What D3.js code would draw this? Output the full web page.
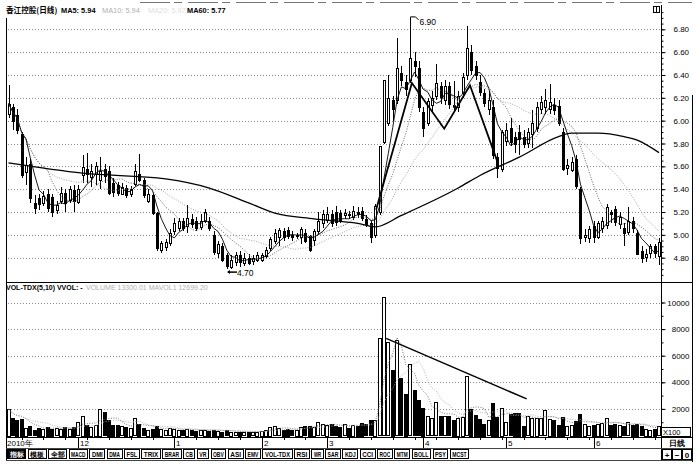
<!DOCTYPE html>
<html><head><meta charset="utf-8">
<script src="https://cdn.jsdelivr.net/npm/d3@7/dist/d3.min.js"></script>
<style>
html,body{margin:0;padding:0;background:#fff;overflow:hidden}
svg{display:block}
text{font-family:"Liberation Sans",Arial,sans-serif}
</style></head><body>
<svg id="c" width="700" height="468"></svg>
<script>
// ---------- data ----------
const open = [6.06,6.12,6.05,5.88,5.55,5.62,5.28,5.32,5.28,5.36, 5.33,5.22,5.30,5.37,5.30,5.39,5.29,5.52,5.58,5.51, 5.53,5.48,5.58,5.56,5.45,5.44,5.36,5.41,5.36,5.45, 5.53,5.48,5.30,5.35,5.19,4.87,4.90,4.93,5.03,5.06, 5.12,5.08,5.14,5.12,5.07,5.12,5.12,5.00,4.84,4.90, 4.82,4.72,4.76,4.82,4.76,4.80,4.77,4.78,4.78,4.82, 4.88,4.95,4.98,5.03,5.04,5.00,4.99,4.98,5.02,4.99, 4.95,5.03,5.10,5.13,5.18,5.20,5.19,5.17,5.18,5.16, 5.20,5.21,5.14,5.10,5.00,5.20,5.82,5.98,6.18,6.18, 6.42,6.34,6.36,6.52,6.46,6.08,5.98,6.14,6.22,6.30, 6.18,6.30,6.14,6.12,6.24,6.40,6.60,6.48,6.34,6.24, 6.10,6.12,5.68,5.58,5.82,5.94,5.86,5.90,5.86,5.80, 5.88,5.94,6.10,6.12,6.10,6.14,6.13,5.90,5.58,5.57, 5.66,5.40,4.98,4.97,5.08,4.98,5.06,5.08,5.20,5.23, 5.10,5.06,5.02,5.12,5.02,4.86,4.80,4.84,4.90,4.82];
const high = [6.31,6.15,6.10,5.90,5.68,5.66,5.35,5.36,5.38,5.40, 5.36,5.30,5.42,5.40,5.43,5.44,5.44,5.70,5.72,5.62, 5.64,5.68,5.62,5.60,5.50,5.46,5.45,5.44,5.43,5.62, 5.71,5.50,5.40,5.36,5.20,4.95,4.96,5.05,5.15,5.15, 5.15,5.26,5.18,5.16,5.18,5.23,5.16,5.03,4.95,4.93, 4.84,4.82,4.85,4.86,4.84,4.83,4.82,4.85,4.84,4.89, 4.98,5.05,5.06,5.06,5.07,5.03,5.02,5.07,5.05,5.00, 5.05,5.20,5.22,5.24,5.22,5.25,5.22,5.23,5.21,5.25, 5.24,5.24,5.17,5.12,5.27,5.78,6.36,6.40,6.22,6.72, 6.48,6.40,6.90,6.60,6.52,6.12,6.20,6.26,6.50,6.34, 6.36,6.34,6.35,6.26,6.42,6.83,6.66,6.52,6.40,6.28, 6.26,6.18,5.72,5.92,5.98,6.02,5.90,5.96,5.92,5.94, 6.09,6.16,6.22,6.28,6.32,6.20,6.18,5.94,5.66,5.68, 5.70,5.42,5.05,5.08,5.12,5.12,5.16,5.27,5.22,5.25, 5.20,5.10,5.24,5.16,5.04,4.90,4.88,4.92,4.92,4.97];
const low = [6.02,5.92,5.88,5.50,5.44,5.28,5.18,5.22,5.25,5.20, 5.16,5.18,5.27,5.20,5.28,5.20,5.27,5.45,5.45,5.42, 5.44,5.40,5.45,5.35,5.33,5.34,5.35,5.32,5.33,5.43, 5.46,5.32,5.28,5.17,4.86,4.84,4.86,4.90,5.00,5.03, 5.03,5.02,5.06,5.03,5.04,5.10,5.03,4.82,4.80,4.76, 4.70,4.70,4.73,4.72,4.73,4.74,4.74,4.76,4.76,4.80, 4.86,4.92,4.90,4.95,4.96,4.95,4.96,4.92,4.93,4.85, 4.90,5.00,5.06,5.10,5.07,5.08,5.10,5.14,5.14,5.13, 5.15,5.12,5.07,4.93,4.97,5.17,5.80,5.95,6.00,6.15, 6.30,6.22,6.33,6.38,6.08,5.86,5.95,6.08,6.18,6.15, 6.14,6.10,6.08,6.08,6.20,6.36,6.40,6.36,6.22,6.12, 6.05,5.66,5.50,5.55,5.78,5.78,5.72,5.70,5.76,5.76, 5.76,5.90,6.06,6.06,6.06,6.05,5.95,5.56,5.52,5.55, 5.40,4.92,4.94,4.93,4.93,4.96,5.02,5.05,5.10,5.08, 5.05,4.90,5.00,5.02,4.82,4.75,4.76,4.80,4.80,4.74];
const close = [6.15,6.00,5.92,5.52,5.61,5.32,5.24,5.27,5.34,5.24, 5.20,5.26,5.37,5.28,5.40,5.29,5.40,5.59,5.54,5.56, 5.60,5.56,5.52,5.37,5.37,5.37,5.42,5.35,5.40,5.56, 5.48,5.35,5.36,5.19,4.88,4.93,4.94,5.02,5.10,5.12, 5.06,5.15,5.10,5.06,5.12,5.20,5.06,4.85,4.92,4.78, 4.72,4.78,4.82,4.76,4.80,4.76,4.80,4.82,4.82,4.87, 4.96,5.02,5.04,4.98,4.99,4.98,5.00,5.05,4.95,4.87, 5.03,5.12,5.18,5.18,5.10,5.11,5.13,5.19,5.17,5.21, 5.18,5.15,5.10,4.98,5.25,5.78,6.36,6.20,6.10,6.46, 6.36,6.28,6.55,6.48,6.12,5.94,6.17,6.20,6.33,6.20, 6.30,6.14,6.12,6.22,6.38,6.64,6.44,6.40,6.25,6.15, 6.18,5.70,5.58,5.90,5.92,5.82,5.80,5.84,5.80,5.90, 5.98,6.12,6.16,6.18,6.16,6.10,5.98,5.58,5.61,5.64, 5.42,4.97,5.00,5.05,4.98,5.10,5.12,5.24,5.18,5.12, 5.16,5.02,5.12,5.06,4.84,4.80,4.83,4.90,4.84,4.94];
const volume = [2000,1300,1200,1250,600,700,400,600,500,650,500,550,500,650,500,650,1000,
 1500,800,650,800,2000,1750,1200,800,800,700,650,600,1300,900,550,450,500,750,500,400,550,
 500,450,400,500,400,350,400,450,350,450,350,300,400,300,250,300,250,300,250,300,
 350,450,650,700,550,450,500,400,450,650,700,750,650,1000,850,
 800,850,700,650,850,600,800,750,950,850,1150,1200,
 7300,10400,7000,4950,7150,4300,3150,5350,3400,2650,2100,1450,1300,2500,1450,1450,1450,1200,1350,1400,
 4450,2000,1550,1250,900,1150,2450,1400,2100,1000,1600,1700,1700,750,1450,1350,1350,1300,1900,1250,
 1200,800,1400,700,800,1100,1650,900,700,800,900,950,1300,800,900,800,700,1000,800,900,700,500,450,500,700];
// MA60 at bar indices
const ma60Idx = [0,17,36,46,55,61,70,80,84,90,103,108,117,126,129,135,141,144,149];
const ma60Val = [5.63,5.54,5.49,5.41,5.28,5.19,5.14,5.10,5.07,5.17,5.41,5.52,5.68,5.86,5.89,5.89,5.86,5.83,5.72];
// hand-drawn zigzag (bar index, price) and volume trend line (bar index, volume)
const zigIdx = [84.2,92.4,99.8,105.7,111.9];
const zigVal = [5.22,6.33,5.93,6.31,5.65];
const trendIdx = [86.5,118.7];
const trendVal = [7300,2750];
const priceTicks = [6.8,6.6,6.4,6.2,6.0,5.8,5.6,5.4,5.2,5.0,4.8];
const volTicks = [2000,4000,6000,8000,10000];
const monthLabels = ["2010年","12","1","2","3","4","5","6"];
const monthStart = [0,16,38,58,73,95,114,134];
const buttons = ["指标","模板","全部","MACD","DMI","DMA","FSL","TRIX","BRAR","CB","VR","OBV","ASI","EMV","VOL-TDX","RSI","WR","SAR","KDJ","CCI","ROC","MTM","BOLL","PSY","MCST"];
const peakIdx = 92, lowIdx = 50;

// ---------- scales ----------
const N = close.length, idx = d3.range(N);
const x = d3.scaleLinear().domain([0, N-1]).range([8.5, 659]);
const y = d3.scaleLinear().domain([4.8, 6.8]).range([257.7, 29.3]);
const yv = d3.scaleLinear().domain([0, 10000]).range([435.5, 302.5]);
const px = i => Math.round(x(i));
const ma = (a, n) => a.map((_, i) => d3.mean(a.slice(Math.max(0, i-n+1), i+1)));
const ma5 = ma(close,5), ma10 = ma(close,10), ma20 = ma(close,20);
const mv5 = ma(volume,5), mv10 = ma(volume,10);

const svg = d3.select("#c");
const defs = svg.append("defs");
defs.append("clipPath").attr("id","cp").append("rect").attr("x",6).attr("y",12).attr("width",655).attr("height",270);
defs.append("clipPath").attr("id","cv").append("rect").attr("x",6).attr("y",284).attr("width",655).attr("height",153);

// ---------- frame ----------
const fr = svg.append("g").attr("stroke","#000").attr("shape-rendering","crispEdges");
fr.append("line").attr("x1",140).attr("x2",692).attr("y1",2.5).attr("y2",2.5).attr("stroke","#777").attr("stroke-dasharray","30,4,8,6");
fr.append("line").attr("x1",6.5).attr("x2",6.5).attr("y1",18).attr("y2",460);
fr.append("line").attr("x1",661.5).attr("x2",661.5).attr("y1",5).attr("y2",460).attr("stroke-width",1.2);
fr.append("line").attr("x1",692.5).attr("x2",692.5).attr("y1",95).attr("y2",462).attr("stroke-width",1.5);
fr.append("line").attr("x1",6).attr("x2",692).attr("y1",282.5).attr("y2",282.5).attr("stroke-width",1.5);
fr.append("line").attr("x1",6).attr("x2",692).attr("y1",437.5).attr("y2",437.5);
fr.append("line").attr("x1",6).attr("x2",692).attr("y1",448.5).attr("y2",448.5).attr("stroke","#444");
fr.append("line").attr("x1",6).attr("x2",692).attr("y1",460.5).attr("y2",460.5).attr("stroke","#444");
// small icon top right
svg.append("rect").attr("x",653.5).attr("y",6.5).attr("width",6).attr("height",6).attr("fill","none").attr("stroke","#000");
svg.append("line").attr("x1",656.5).attr("x2",656.5).attr("y1",6.5).attr("y2",12.5).attr("stroke","#000");

// ---------- grid ----------
const grid = svg.append("g").attr("stroke","#8a8a8a").attr("stroke-dasharray","1,2").attr("shape-rendering","crispEdges");
priceTicks.forEach(t => grid.append("line").attr("x1",8).attr("x2",660).attr("y1",Math.round(y(t))+0.5).attr("y2",Math.round(y(t))+0.5));
volTicks.forEach(t => grid.append("line").attr("x1",8).attr("x2",660).attr("y1",Math.round(yv(t))+0.5).attr("y2",Math.round(yv(t))+0.5));

// ---------- axes ----------
const ax = svg.append("g").attr("transform","translate(661.5,0)")
  .call(d3.axisRight(y).tickValues(priceTicks).tickFormat(d3.format(".2f")).tickSize(4).tickPadding(8));
ax.select(".domain").remove();
ax.selectAll("text").attr("font-size",8).attr("font-family","Liberation Sans, Arial").attr("fill","#000");
const axm = svg.append("g").attr("transform","translate(661.5,0)")
  .call(d3.axisRight(y).tickValues(d3.range(4.65, 6.96, 0.05)).tickFormat("").tickSize(2));
axm.select(".domain").remove();
const av = svg.append("g").attr("transform","translate(661.5,0)")
  .call(d3.axisRight(yv).tickValues(volTicks).tickFormat(d3.format("d")).tickSize(4).tickPadding(6));
av.select(".domain").remove();
av.selectAll("text").attr("font-size",8).attr("font-family","Liberation Sans, Arial").attr("fill","#000").attr("text-anchor","end").attr("x",28);
const avm = svg.append("g").attr("transform","translate(661.5,0)")
  .call(d3.axisRight(yv).tickValues(d3.range(1000, 11000, 1000)).tickFormat("").tickSize(2));
avm.select(".domain").remove();

// ---------- candles ----------
const gp = svg.append("g").attr("clip-path","url(#cp)").attr("shape-rendering","crispEdges");
gp.selectAll("line.w").data(idx).join("line").attr("class","w")
  .attr("x1", i => px(i)+0.5).attr("x2", i => px(i)+0.5)
  .attr("y1", i => y(high[i])).attr("y2", i => y(low[i])).attr("stroke","#000");
gp.selectAll("rect.b").data(idx).join("rect").attr("class","b")
  .attr("x", i => px(i)-0.5).attr("width", 2)
  .attr("y", i => Math.round(y(Math.max(open[i],close[i])))+0.5)
  .attr("height", i => Math.max(1, Math.round(Math.abs(y(open[i])-y(close[i])))))
  .attr("fill", i => close[i] >= open[i] ? "#fff" : "#000").attr("stroke","#000");

// moving averages
const lg = svg.append("g").attr("clip-path","url(#cp)").attr("fill","none");
const line = arr => d3.line().x((d,i) => x(i)).y(d => y(d))(arr);
lg.append("path").attr("d", line(ma20)).attr("stroke","#999").attr("stroke-width",0.9).attr("stroke-dasharray","1,1.5");
lg.append("path").attr("d", line(ma10)).attr("stroke","#555").attr("stroke-width",0.9).attr("stroke-dasharray","1,1.5");
lg.append("path").attr("d", line(ma5)).attr("stroke","#000").attr("stroke-width",0.9);
lg.append("path").attr("d", d3.line().curve(d3.curveMonotoneX).x((d,k)=>x(ma60Idx[k])).y(d=>y(d))(ma60Val))
  .attr("stroke","#000").attr("stroke-width",1.3);
lg.append("path").attr("d", d3.line().x((d,k)=>x(zigIdx[k])).y(d=>y(d))(zigVal))
  .attr("stroke","#000").attr("stroke-width",1.8);

// peak / low labels
const pX = px(peakIdx)+0.5, pY = y(high[peakIdx]);
svg.append("path").attr("d",`M${pX},${pY} L${pX},${pY-1} L${pX+5},${pY-1} L${pX+8},${pY+2}`).attr("fill","none").attr("stroke","#000");
svg.append("text").attr("x",pX+9).attr("y",pY+7).attr("font-size",8.5).text(d3.format(".2f")(high[peakIdx]));
const lX = px(lowIdx), lY = y(low[lowIdx])+3;
svg.append("path").attr("d",`M${lX+1},${lY} L${lX+10},${lY}`).attr("stroke","#000").attr("stroke-width",1.5);
svg.append("path").attr("d",`M${lX},${lY} l3,-2 l0,4 z`).attr("fill","#000");
svg.append("text").attr("x",lX+10).attr("y",lY+3.5).attr("font-size",8.5).text(d3.format(".2f")(low[lowIdx]));

// ---------- volume ----------
const gv = svg.append("g").attr("clip-path","url(#cv)").attr("shape-rendering","crispEdges");
gv.selectAll("rect").data(idx).join("rect")
  .attr("x", i => px(i)-1.5).attr("width", 3)
  .attr("y", i => Math.round(yv(volume[i]))+0.5)
  .attr("height", i => Math.max(0, Math.round(yv(0)-yv(volume[i]))))
  .attr("fill", i => close[i] >= open[i] ? "#fff" : "#000").attr("stroke","#000");
const vline = arr => d3.line().x((d,i)=>x(i)).y(d=>yv(d))(arr);
const gvl = svg.append("g").attr("clip-path","url(#cv)").attr("fill","none");
gvl.append("path").attr("d", vline(mv5)).attr("stroke","#666").attr("stroke-width",0.9).attr("stroke-dasharray","1,1.5");
gvl.append("path").attr("d", vline(mv10)).attr("stroke","#aaa").attr("stroke-width",0.9).attr("stroke-dasharray","1,1.5");
gvl.append("path").attr("d", d3.line().x((d,k)=>x(trendIdx[k])).y(d=>yv(d))(trendVal)).attr("stroke","#000").attr("stroke-width",1.5);

// X100 box
svg.append("rect").attr("x",661.5).attr("y",427.5).attr("width",29).attr("height",9).attr("fill","#fff").attr("stroke","#000");
svg.append("text").attr("x",663).attr("y",435).attr("font-size",7.5).text("X100");

// ---------- headers ----------
const h = svg.append("text").attr("y",13).attr("font-size",7.4).attr("font-weight","bold");
h.append("tspan").attr("x",6).attr("font-family","Noto Sans CJK SC").attr("font-size",7.6).text("香江控股(日线)");
h.append("tspan").attr("x",61).text("MA5: 5.94");
h.append("tspan").attr("x",102).attr("fill","#b0b0b0").attr("font-weight","normal").text("MA10: 5.94");
h.append("tspan").attr("x",148).attr("fill","#dedede").attr("font-weight","normal").text("MA20: 5.97");
h.append("tspan").attr("x",187).text("MA60: 5.77");
const vh = svg.append("text").attr("y",290).attr("font-size",7);
vh.append("tspan").attr("x",6).attr("font-weight","bold").text("VOL-TDX(5,10) VVOL: -");
vh.append("tspan").attr("x",86).attr("fill","#b0b0b0").text("VOLUME 13300.01  MAVOL1 12699.20");

// ---------- date axis ----------
const da = svg.append("g").attr("font-size",8);
monthStart.forEach((m, k) => {
  const mx = k === 0 ? 7 : px(m);
  if (k > 0) da.append("line").attr("x1",mx+0.5).attr("x2",mx+0.5).attr("y1",438).attr("y2",448).attr("stroke","#000").attr("shape-rendering","crispEdges");
  da.append("text").attr("x", k === 0 ? mx : mx+2).attr("y",446).attr("font-family", k===0 ? "Noto Sans CJK SC, Liberation Sans" : null).text(monthLabels[k]);
});
d3.range(3, N, 5).forEach(i => da.append("line").attr("x1",px(i)+0.5).attr("x2",px(i)+0.5).attr("y1",438).attr("y2",440).attr("stroke","#000").attr("shape-rendering","crispEdges"));
svg.append("text").attr("x",669).attr("y",446).attr("font-size",8).attr("font-family","Noto Sans CJK SC").attr("font-weight","bold").text("日线");

// ---------- button row ----------
const gb = svg.append("g").attr("font-size",6.5).attr("font-weight","bold").attr("shape-rendering","crispEdges");
let bx = 7.5;
buttons.forEach((b, k) => {
  const cjk = /[\u4e00-\u9fff]/.test(b);
  const tw = cjk ? b.length*7 : b.length*3.6;
  const bw = tw + 4;
  gb.append("rect").attr("x",bx).attr("y",449.5).attr("width",bw).attr("height",9).attr("fill", k===0 ? "#000" : "#fff").attr("stroke","#000");
  gb.append("text").attr("x",bx+2).attr("y",457).attr("textLength",tw).attr("lengthAdjust","spacingAndGlyphs")
    .attr("fill", k===0 ? "#fff" : "#000").attr("font-family", cjk ? "Noto Sans CJK SC" : null).text(b);
  bx += bw + 2.5;
});
["+","−","0"].forEach((s, k) => {
  const sx = 662.5 + k*10;
  svg.append("rect").attr("x",sx).attr("y",449.5).attr("width",9).attr("height",10).attr("fill","#fff").attr("stroke","#000").attr("shape-rendering","crispEdges");
  svg.append("text").attr("x",sx+4.5).attr("y",457.5).attr("text-anchor","middle").attr("font-size",8).attr("font-weight","bold").text(s);
});
</script></body></html>
